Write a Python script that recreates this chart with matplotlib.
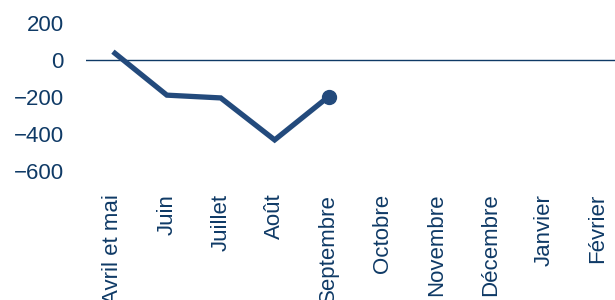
import matplotlib
matplotlib.use("Agg")
import matplotlib.pyplot as plt

categories = ["Avril et mai", "Juin", "Juillet", "Août", "Septembre",
              "Octobre", "Novembre", "Décembre", "Janvier", "Février"]
values = [45, -190, -205, -432, -198]
yticks = [200, 0, -200, -400, -600]
ytick_labels = ["200", "0", "\u2212200", "\u2212400", "\u2212600"]

line_color = "#234a7c"
text_color = "#0f3a66"

plt.rcParams['font.family'] = ['Liberation Sans', 'DejaVu Sans']

fig = plt.figure(figsize=(6.15, 3.0), dpi=100)
ax = fig.add_axes([86/615, 1 - 189.5/300, (625 - 86)/615, (189.5 - 4.5)/300])

x = list(range(len(values)))
ax.plot(x, values, color=line_color, lw=3.8, solid_capstyle='butt', solid_joinstyle='miter')
ax.plot(x[-1], values[-1], 'o', color=line_color, markersize=10)
ax.axhline(0, color=text_color, lw=1.0, zorder=0)

ax.set_xlim(-0.5, len(categories) - 0.5)
ax.set_ylim(-700, 300)
ax.set_xticks(range(len(categories)))
ax.set_xticklabels(categories, rotation=90, ha='center', va='top',
                   fontsize=16, color=text_color)
ax.set_yticks(yticks)
ax.set_yticklabels(ytick_labels, fontsize=16, color=text_color)
ax.tick_params(axis='both', length=0)
ax.tick_params(axis='y', pad=16)
ax.tick_params(axis='x', pad=3)
for s in ax.spines.values():
    s.set_visible(False)

fig.savefig("out.png", dpi=100)
